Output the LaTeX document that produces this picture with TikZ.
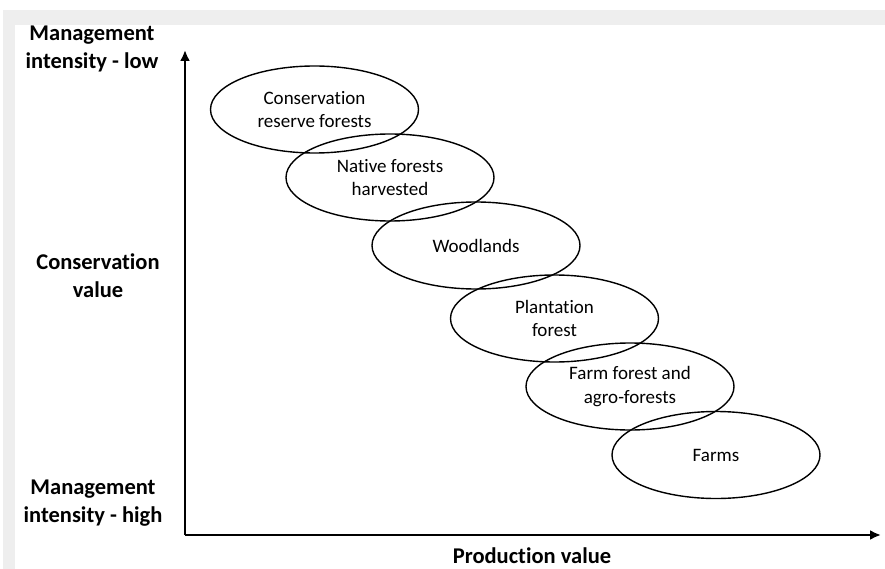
\documentclass[tikz,border=0pt]{standalone}
\usepackage{fontspec}
\setmainfont{Carlito}[Ligatures=NoCommon]
\usepackage{tikz}
\usetikzlibrary{arrows.meta}
\usetikzlibrary{shapes.geometric}
\definecolor{framegray}{HTML}{EEEEEE}
\tikzset{
    landuse/.style={draw, ellipse, line width=1.4pt, minimum width=208pt, minimum height=87pt, inner sep=0pt, align=center, font=\fontsize{19}{23.5}\selectfont},
    axislabel/.style={align=center, font=\fontsize{22.5}{28}\selectfont\bfseries},
    axisline/.style={line width=2.8pt, -{Latex[length=11pt,width=10pt]}}
}

\begin{document}
\begin{tikzpicture}[x=1pt,y=-1pt]
\useasboundingbox (0,0) rectangle (885,569);
\fill[white] (0,0) rectangle (885,569);
\fill[framegray] (3,10) rectangle (885,25);
\fill[framegray] (3,10) rectangle (15,569);
\coordinate (origin) at (185,535);
\coordinate (ytip) at (185,50);
\coordinate (xtip) at (881,535);
\draw[axisline] (origin) -- (ytip);
\draw[axisline] (origin) -- (xtip);
\node[axislabel] (low) at (92,49) {Management\\intensity - low};
\node[axislabel] (cons) at (98,276) {Conservation\\value};
\node[axislabel] (high) at (93,503) {Management\\intensity - high};
\node[axislabel] (prod) at (532,556) {Production value};
\foreach \x/\y/\p/\labeltext in {314.5/109.5/reserve/{Conservation\\reserve forests}, 390/177.5/native/{Native forests\\harvested}, 476/245.5/woodlands/{Woodlands}, 554.5/318.5/plantation/{Plantation\\forest}, 630/386.5/farmforest/{Farm forest and\\agro-forests}, 716/455/farms/{Farms}}{
\node[landuse] (\p) at (\x,\y) {\labeltext};
}
\end{tikzpicture}
\end{document}
